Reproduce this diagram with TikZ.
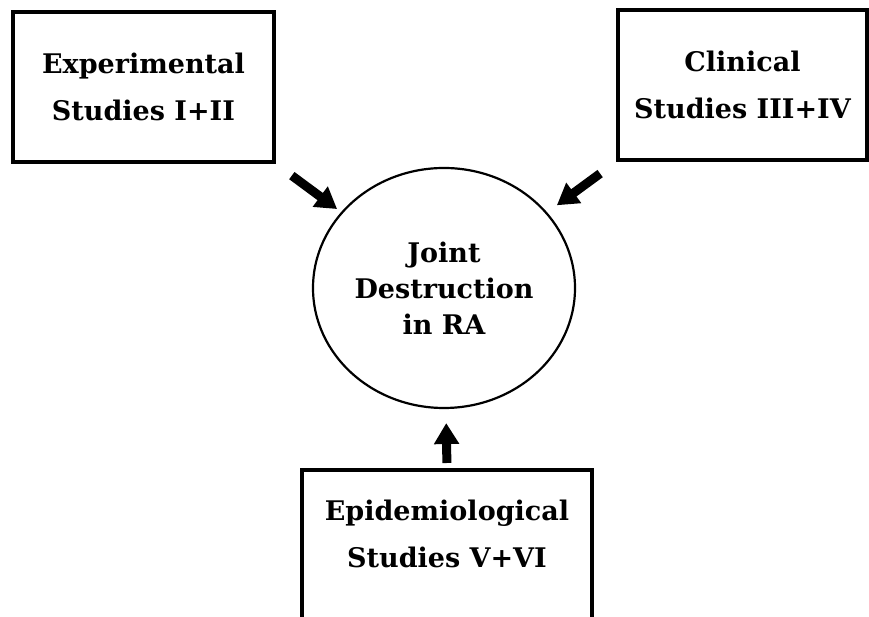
\documentclass[tikz,border=0pt]{standalone}
\usepackage{fontspec}
\setmainfont{DejaVu Serif}
\usetikzlibrary{arrows.meta, shapes.geometric}

\tikzset{
    studyfont/.style={font=\bfseries\fontsize{27}{47}\selectfont, align=center},
    studybox/.style={studyfont, draw, line width=3.5pt, inner sep=0pt},
    bigarrow/.style={line width=9pt, -{Triangle[length=21pt, width=24pt]}},
}

\begin{document}
\begin{tikzpicture}[x=1pt, y=1pt]
        \useasboundingbox (0, 0) rectangle (869, 617);
        \clip (0, 0) rectangle (869, 617);

        % the three groups of studies
        \node[studybox, minimum width=261pt, minimum height=150pt] (exper) at (143.5, 530) {Experimental\\Studies I+II};
        \node[studybox, minimum width=249pt, minimum height=150pt] (clin) at (742.5, 532) {Clinical\\Studies III+IV};

        \node[studyfont] (epi) at (447, 83) {Epidemiological\\Studies V+VI};
        \coordinate (epitop) at (447, 147);
        \draw[line width=3.5pt] (302, -10) |- (epitop) -| (592, -10);

        % the disease in the middle
        \node[draw, ellipse, line width=2.2pt, minimum width=262pt, minimum height=240pt, inner sep=0pt,
              font=\bfseries\fontsize{27}{36}\selectfont, align=center] (joint) at (444, 329) {Joint\\Destruction\\in RA};

        \draw[bigarrow, shorten <=20pt, shorten >=5pt] (exper.south east) -- (joint);
        \draw[bigarrow, shorten <=20pt, shorten >=12pt] (clin.south west) -- (joint);
        \draw[bigarrow, shorten <=7pt, shorten >=14pt] (epitop) -- (joint);

    \end{tikzpicture}
\end{document}
